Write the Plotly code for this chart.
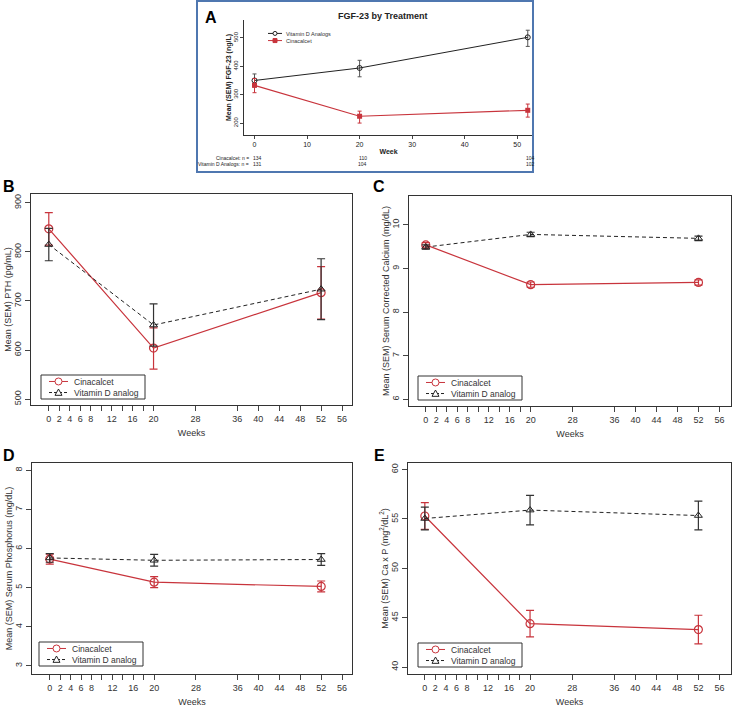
import plotly.graph_objects as go

# weeks of measurement
weeks = [0, 20, 52]

# panel A: FGF-23 (ng/L)
fgf_vitd = [350, 394, 502]
fgf_vitd_up = [23, 27, 25]
fgf_vitd_dn = [23, 31, 32]
fgf_cina = [333, 224, 245]
fgf_cina_up = [24, 18, 22]
fgf_cina_dn = [26, 24, 24]
n_cina = ["134", "110", "104"]
n_vitd = ["131", "104", "102"]

# panel B: PTH (pg/mL)
pth_cina = [847, 604, 717]
pth_cina_up = [33, 41, 53]
pth_cina_dn = [33, 43, 54]
pth_vitd = [815, 651, 724]
pth_vitd_err = [33, 43, 62]

# panel C: corrected calcium (mg/dL)
ca_cina = [9.54, 8.63, 8.68]
ca_cina_err = [0.05, 0.06, 0.06]
ca_vitd = [9.49, 9.78, 9.69]
ca_vitd_err = [0.05, 0.05, 0.05]

# panel D: phosphorus (mg/dL)
p_cina = [5.73, 5.14, 5.03]
p_cina_err = [0.13, 0.14, 0.14]
p_vitd = [5.76, 5.70, 5.72]
p_vitd_err = [0.11, 0.15, 0.15]

# panel E: Ca x P
cap_cina = [55.3, 44.4, 43.8]
cap_cina_err = [1.35, 1.35, 1.45]
cap_vitd = [55.05, 55.9, 55.35]
cap_vitd_err = [1.15, 1.5, 1.45]

week_ticks = [0, 2, 4, 6, 8, 10, 12, 14, 16, 18, 20, 28, 36, 40, 44, 48, 52, 56]
week_labels = ["0", "2", "4", "6", "8", " ", "12", " ", "16", " ", "20", "28", "36", "40", "44", "48", "52", "56"]

RED = "#c8343c"
BLK = "#222222"
DASH = "4px,3px"
FONT = "Liberation Sans, Arial, sans-serif"

W, H = 733, 707
def px_x(p): return p / W
def px_y(p): return 1 - p / H

fig = go.Figure()

# ---- panel A
fig.add_trace(go.Scatter(x=weeks, y=fgf_vitd, mode="lines+markers", name="Vitamin D Analogs",
                         line=dict(color=BLK, width=1),
                         marker=dict(symbol="circle-open", size=5, color=BLK, line=dict(width=1)),
                         error_y=dict(type="data", array=fgf_vitd_up, arrayminus=fgf_vitd_dn,
                                      color="#555", thickness=1, width=2),
                         xaxis="x", yaxis="y"))
fig.add_trace(go.Scatter(x=weeks, y=fgf_cina, mode="lines+markers", name="Cinacalcet",
                         line=dict(color=RED, width=1.2),
                         marker=dict(symbol="square", size=5, color=RED),
                         error_y=dict(type="data", array=fgf_cina_up, arrayminus=fgf_cina_dn,
                                      color=RED, thickness=1, width=2),
                         xaxis="x", yaxis="y"))

# ---- panels B-E
panels = [
    ("2", pth_cina, pth_cina_up, pth_cina_dn, pth_vitd, pth_vitd_err, pth_vitd_err),
    ("3", ca_cina, ca_cina_err, ca_cina_err, ca_vitd, ca_vitd_err, ca_vitd_err),
    ("4", p_cina, p_cina_err, p_cina_err, p_vitd, p_vitd_err, p_vitd_err),
    ("5", cap_cina, cap_cina_err, cap_cina_err, cap_vitd, cap_vitd_err, cap_vitd_err),
]
for k, cy, cu, cd, vy, vu, vd in panels:
    fig.add_trace(go.Scatter(x=weeks, y=cy, mode="lines+markers", name="Cinacalcet",
                             line=dict(color=RED, width=1.2),
                             marker=dict(symbol="circle-open", size=8, color=RED, line=dict(width=1.2)),
                             error_y=dict(type="data", array=cu, arrayminus=cd,
                                          color=RED, thickness=1.2, width=4),
                             xaxis="x" + k, yaxis="y" + k))
    fig.add_trace(go.Scatter(x=weeks, y=vy, mode="lines+markers", name="Vitamin D analog",
                             line=dict(color=BLK, width=1, dash=DASH),
                             marker=dict(symbol="triangle-up-open", size=7, color=BLK, line=dict(width=1)),
                             error_y=dict(type="data", array=vu, arrayminus=vd,
                                          color="#333", thickness=1.2, width=4),
                             xaxis="x" + k, yaxis="y" + k))

lay = dict(width=W, height=H, margin=dict(l=0, r=0, t=0, b=0), autosize=False, showlegend=False,
           paper_bgcolor="white", plot_bgcolor="white", font=dict(family=FONT, color="#222"))

# panel A axes
lay["xaxis"] = dict(domain=[px_x(244), px_x(533)], range=[-2, 53], anchor="y", automargin=False,
                    showline=True, linecolor="#333", linewidth=1, ticks="outside", ticklen=3,
                    tickvals=[0, 10, 20, 30, 40, 50], showgrid=False, zeroline=False,
                    tickfont=dict(size=7), title=dict(text="<b>Week</b>", font=dict(size=7), standoff=1))
lay["yaxis"] = dict(domain=[px_y(135), px_y(20)], range=[158, 563], anchor="x", automargin=False,
                    showline=True, linecolor="#333", linewidth=1, ticks="outside", ticklen=3,
                    tickvals=[200, 300, 400, 500], tickangle=-90, showgrid=False, zeroline=False,
                    tickfont=dict(size=6), title=dict(text="<b>Mean (SEM) FGF-23 (ng/L)</b>",
                                                      font=dict(size=7), standoff=0))

boxes = {
    "2": ([31, 352], [405, 194], [488, 918], [500, 600, 700, 800, 900], [-3.4, 57.9],
          "Mean (SEM) PTH (pg/mL)"),
    "3": ([409, 731], [406, 196], [5.85, 10.66], [6, 7, 8, 9, 10], [-3.2, 58.2],
          "Mean (SEM) Serum Corrected Calcium (mg/dL)"),
    "4": ([32, 352], [674, 463], [2.79, 8.19], [3, 4, 5, 6, 7, 8], [-3.4, 57.9],
          "Mean (SEM) Serum Phosphorus (mg/dL)"),
    "5": ([408, 731], [674, 463], [39.3, 60.67], [40, 45, 50, 55, 60], [-3.2, 58.2],
          "Mean (SEM) Ca x P (mg<sup>2</sup>/dL<sup>2</sup>)"),
}
for k, (xd, yd, yr, yt, xr, ytitle) in boxes.items():
    lay["xaxis" + k] = dict(domain=[px_x(xd[0]), px_x(xd[1])], range=xr, anchor="y" + k,
                            automargin=False,
                            showline=True, mirror=True, linecolor="#333", linewidth=1,
                            ticks="outside", ticklen=5, tickvals=week_ticks, ticktext=week_labels,
                            showgrid=False, zeroline=False, tickfont=dict(size=9, color="#333"),
                            title=dict(text="Weeks", font=dict(size=9, color="#333"), standoff=6))
    lay["yaxis" + k] = dict(domain=[px_y(yd[0]), px_y(yd[1])], range=yr, anchor="x" + k,
                            automargin=False,
                            showline=True, mirror=True, linecolor="#333", linewidth=1,
                            ticks="outside", ticklen=5, tickvals=yt, tickangle=-90,
                            showgrid=False, zeroline=False, tickfont=dict(size=9, color="#333"),
                            title=dict(text=ytitle, font=dict(size=9, color="#333"), standoff=0))

fig.update_layout(**lay)


def note(text, xp, yp, size, xanchor="center", color="#222", xref="paper", x=None, xshift=0):
    fig.add_annotation(text=text, x=px_x(xp) if x is None else x, y=px_y(yp), xref=xref, yref="paper",
                       xanchor=xanchor, yanchor="middle", xshift=xshift, showarrow=False,
                       font=dict(size=size, color=color))


def legend_box(x0, y0, w, h, rows, fsize, msize, lx0, lx1, tx, border=True):
    # compact R-style legend: frame, two sample lines with markers, one two-line label
    if border:
        fig.add_shape(type="rect", xref="paper", yref="paper", x0=px_x(x0), x1=px_x(x0 + w),
                      y0=px_y(y0 + h), y1=px_y(y0), line=dict(color="#333", width=1),
                      fillcolor="white", layer="above")
    step = fsize * 1.3
    mid = y0 + h / 2
    for i, (label, col, dash, sym) in enumerate(rows):
        yy = mid + (i - (len(rows) - 1) / 2) * step
        fig.add_shape(type="line", xref="paper", yref="paper", x0=px_x(x0 + lx0), x1=px_x(x0 + lx1),
                      y0=px_y(yy), y1=px_y(yy), line=dict(color=col, width=1, dash=dash), layer="above")
        cx = x0 + (lx0 + lx1) / 2
        r = msize / 2
        if sym == "circle":
            fig.add_shape(type="circle", xref="paper", yref="paper", x0=px_x(cx - r), x1=px_x(cx + r),
                          y0=px_y(yy + r), y1=px_y(yy - r), line=dict(color=col, width=1),
                          fillcolor="white", layer="above")
        elif sym == "square":
            fig.add_shape(type="rect", xref="paper", yref="paper", x0=px_x(cx - r), x1=px_x(cx + r),
                          y0=px_y(yy + r), y1=px_y(yy - r), line=dict(color=col, width=1),
                          fillcolor=col, layer="above")
        else:
            path = "M %f %f L %f %f L %f %f Z" % (px_x(cx - r), px_y(yy + r * 0.8), px_x(cx + r),
                                                   px_y(yy + r * 0.8), px_x(cx), px_y(yy - r))
            fig.add_shape(type="path", xref="paper", yref="paper", path=path,
                          line=dict(color=col, width=1), fillcolor="white", layer="above")
    fig.add_annotation(text="<br>".join(r[0] for r in rows), x=px_x(x0 + tx), y=px_y(mid),
                       xref="paper", yref="paper", xanchor="left", yanchor="middle", align="left",
                       showarrow=False, font=dict(size=fsize, color="#333"))


leg_rows = [("Cinacalcet", RED, "solid", "circle"),
            ("Vitamin D analog", BLK, "3px,2px", "triangle")]
for x0, y0 in [(41, 375), (418, 376), (39, 642), (418, 643)]:
    legend_box(x0, y0, 104, 24, leg_rows, 8.5, 7, 8, 27, 31)

legend_box(266, 33, 0, 8, [("Vitamin D Analogs", BLK, "solid", "circle"),
                           ("Cinacalcet", RED, "solid", "square")], 5.5, 4, 2, 16, 18, border=False)

# panel A title, letters and the n table
note("<b>FGF-23 by Treatment</b>", 383, 16, 9)
for letter, xp, yp in [("A", 211, 17), ("B", 9, 187), ("C", 379, 187), ("D", 9, 455), ("E", 379, 455)]:
    note("<b>%s</b>" % letter, xp, yp, 16, color="black")
for label, ns, yp in [("Cinacalcet: n =", n_cina, 158), ("Vitamin D Analogs: n =", n_vitd, 164)]:
    note(label, 251, yp, 5, xanchor="right")
    for wk, n in zip(weeks, ns):
        note(n, 0, yp, 5, xref="x", x=wk, xshift=3)

# blue frame around panel A
fig.add_shape(type="rect", xref="paper", yref="paper", x0=px_x(197), x1=px_x(533),
              y0=px_y(172), y1=px_y(1), line=dict(color="#4f77b0", width=2))

# the page body has a default 8px margin; drop it so the figure fills the window
fig.write_html("out.html", config={"displayModeBar": False},
               post_script="document.body.style.margin='0';")
